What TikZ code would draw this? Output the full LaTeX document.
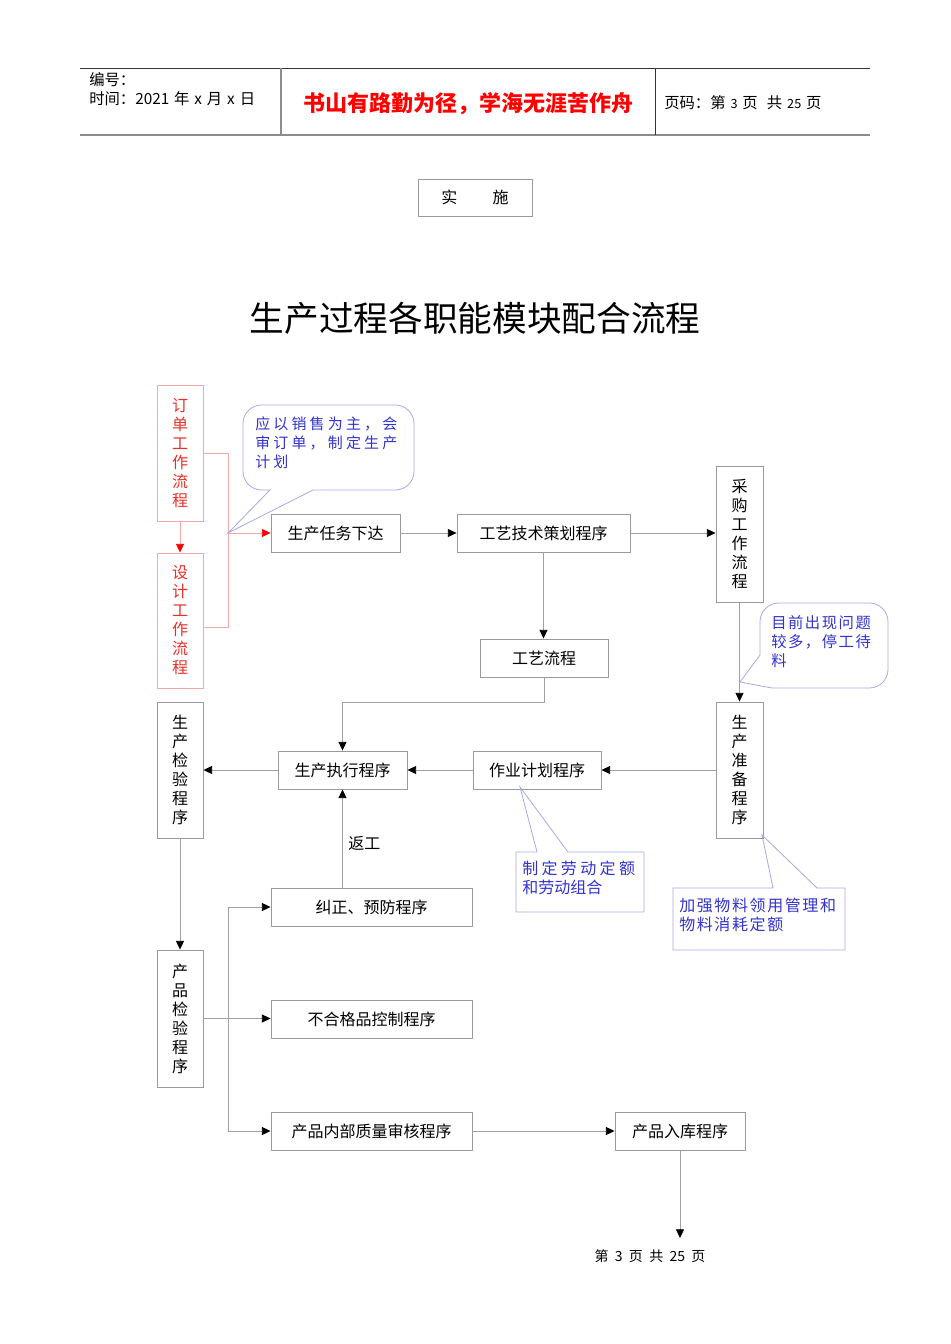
\documentclass[tikz,border=0pt]{standalone}
\usepackage{fontspec}
\newfontfamily\cjk{Noto Sans CJK SC}
\newfontfamily\cjkls[LetterSpace=21]{Noto Sans CJK SC}
\newfontfamily\cjkws[LetterSpace=10]{Noto Sans CJK SC}
\usetikzlibrary{arrows.meta}
\definecolor{boxgray}{HTML}{9A9A9A}
\definecolor{linegray}{HTML}{A0A0A0}
\definecolor{pinkline}{HTML}{F4A8A8}
\definecolor{redtext}{HTML}{E8302A}
\definecolor{bluetext}{HTML}{3333CC}
\definecolor{blueline}{HTML}{A8A8E8}
\newcommand{\gp}{\hspace{0.32em}}
\begin{document}
\begin{tikzpicture}[x=0.75pt,y=-0.75pt,
  box/.style={draw=boxgray, line width=0.7pt, inner sep=0pt, minimum height=28.5pt,
    font=\cjk\fontsize{12}{14}\selectfont},
  vbox/.style={draw=boxgray, line width=0.7pt, inner sep=0pt, align=center,
    minimum width=35pt, minimum height=102pt, font=\cjk\fontsize{12}{14.25}\selectfont},
  rvbox/.style={vbox, draw=pinkline, text=redtext},
  arr/.style={draw=linegray, line width=0.6pt, -{Triangle[length=6.5pt,width=6pt,color=black]}},
  rarr/.style={draw=pinkline, line width=0.6pt, -{Triangle[length=6.5pt,width=6pt,color=red]}},
  conn/.style={draw=linegray, line width=0.6pt},
  rconn/.style={draw=pinkline, line width=0.6pt},
  callout/.style={draw=blueline, line width=0.6pt},
  ctext/.style={anchor=north west, inner sep=0pt, align=left, text=bluetext},
  hdr/.style={anchor=west, inner sep=0pt, font=\cjk\fontsize{11.5}{13}\selectfont}
]
\useasboundingbox (0,0) rectangle (950,1344);
\fill[white] (0,0) rectangle (950,1344);

% header
\draw[draw=black!80, line width=0.7pt] (80,68) -- (870,68);
\draw[draw=black!45, line width=1.5pt] (80,135.5) -- (870,135.5);
\draw[draw=black!45, line width=0.9pt] (281,68) -- (281,135);
\draw[draw=black!80, line width=0.7pt] (655,68) -- (655,135);
\node[hdr] (h1) at (89,80) {编号：};
\node[hdr] (h2) at (89,99) {时间：2021\gp 年\gp x\gp 月\gp x\gp 日};
\node[inner sep=0pt, text=red, font=\cjk\bfseries\fontsize{16.5}{18}\selectfont] (h3) at (468,104) {书山有路勤为径，学海无涯苦作舟};
\node[hdr] (h4) at (664,103) {页码：第\gp{\fontsize{9.5}{11}\selectfont 3}\gp 页\hspace{0.6em}共\gp{\fontsize{9.5}{11}\selectfont 25}\gp 页};

% shishi
\node[box, minimum width=85.5pt, minimum height=27.75pt] (ss) at (475,197.5) {实\hspace{2.2em}施};

% title
\node[inner sep=0pt, font=\cjk\fontsize{26}{30}\selectfont] (title) at (475,318) {生产过程各职能模块配合流程};

% boxes
\node[rvbox, minimum width=34.5pt, minimum height=102pt] (dd) at (180,453) {订\\单\\工\\作\\流\\程};
\node[rvbox, minimum width=34.5pt, minimum height=101.25pt] (sj) at (180,620.5) {设\\计\\工\\作\\流\\程};
\node[box, minimum width=96.75pt] (rw) at (335.5,533) {生产任务下达};
\node[box, minimum width=129.75pt] (gj) at (543.5,533) {工艺技术策划程序};
\node[vbox, minimum width=35.25pt] (cg) at (739.5,534) {采\\购\\工\\作\\流\\程};
\node[box, minimum width=96pt] (gl) at (544,658) {工艺流程};
\node[box, minimum width=96.75pt] (zx) at (342.5,770) {生产执行程序};
\node[box, minimum width=96pt] (zy) at (537,770) {作业计划程序};
\node[vbox, minimum width=35.25pt] (zb) at (739.5,770) {生\\产\\准\\备\\程\\序};
\node[vbox, minimum width=34.5pt] (jy) at (180,770) {生\\产\\检\\验\\程\\序};
\node[vbox, minimum width=34.5pt, minimum height=102.75pt] (cj) at (180,1018.5) {产\\品\\检\\验\\程\\序};
\node[box, minimum width=150.75pt] (jz) at (371.5,907) {纠正、预防程序};
\node[box, minimum width=150.75pt] (bh) at (371.5,1019) {不合格品控制程序};
\node[box, minimum width=150.75pt] (nb) at (371.5,1131) {产品内部质量审核程序};
\node[box, minimum width=97.5pt] (rk) at (680,1131) {产品入库程序};

% red connectors
\coordinate (rj) at (228,533);
\draw[rarr] (dd.south) -- (sj.north);
\draw[rconn] (dd.east) -| (rj);
\draw[rconn] ([yshift=-6.5*0.75pt]sj.east) -| (rj);
\draw[rarr] (rj) -- (rw.west);

% grey connectors
\draw[arr] (rw.east) -- (gj.west);
\draw[arr] (gj.east) -- (gj.east -| cg.west);
\draw[arr] (gj.south) -- (gj.south |- gl.north);
\draw[arr] (gl.south) -- ++(0,25) -| (zx.north);
\draw[arr] (cg.south) -- (zb.north);
\draw[arr] (zb.west) -- (zy.east);
\draw[arr] (zy.west) -- (zx.east);
\draw[arr] (zx.west) -- (jy.east);
\draw[arr] (jy.south) -- (cj.north);
\draw[arr] (cj.east) -- (cj.east -| bh.west);
\coordinate (bt) at (228,907);
\coordinate (bb) at (228,1131);
\draw[conn] (bt) -- (bb);
\draw[arr] (bt) -- (jz.west);
\draw[arr] (bb) -- (nb.west);
\draw[arr] (jz.north -| zx.south) -- (zx.south);
\node[inner sep=0pt, anchor=west, font=\cjk\fontsize{12}{14}\selectfont] (fg) at (348,843) {返工};
\draw[arr] (nb.east) -- (rk.west);
\coordinate (endp) at (680,1238);
\draw[arr] (rk.south) -- (endp);

% callout 1
\draw[callout] (313,490) [rounded corners=14pt] -- (414,490) -- (414,405) -- (243,405) -- (243,490) [sharp corners] -- (270,490) -- (rj) -- cycle;
\node[ctext, font=\cjkls\fontsize{11.25}{14.25}\selectfont] (c1) at (255,417) {应以销售为主，会\\审订单，制定生产\\计划};

% callout 2
\coordinate (tip2) at (740,682);
\draw[callout] (760,655) -- (tip2) -- (772,688) [rounded corners=14pt] -- (888,688) -- (888,603) -- (760,603) -- (760,655);
\node[ctext, font=\cjkws\fontsize{11.5}{14.25}\selectfont] (c2) at (771,615) {目前出现问题\\较多，停工待\\料};

% callout 3
\coordinate (tip3) at (520,787);
\draw[callout] (537,852) -- (tip3) -- (568,852) -- (644,852) -- (644,912) -- (516,912) -- (516,852) -- cycle;
\node[ctext, font=\cjk\fontsize{12}{14.25}\selectfont] (c3) at (522,861) {{\cjkls 制定劳动定额}\\和劳动组合};

% callout 4
\coordinate (tip4) at (762,835);
\draw[callout] (773,888) -- (tip4) -- (817,888) -- (845,888) -- (845,950) -- (673,950) -- (673,888) -- cycle;
\node[ctext, font=\cjkws\fontsize{12}{14.25}\selectfont] (c4) at (679,898) {加强物料领用管理和\\物料消耗定额};

% footer
\node[inner sep=0pt, font=\cjk\fontsize{10.5}{12}\selectfont] (ft) at (650,1256) {第\hspace{0.45em}3\hspace{0.45em}页\hspace{0.45em}共\hspace{0.45em}25\hspace{0.45em}页};
\end{tikzpicture}
\end{document}
